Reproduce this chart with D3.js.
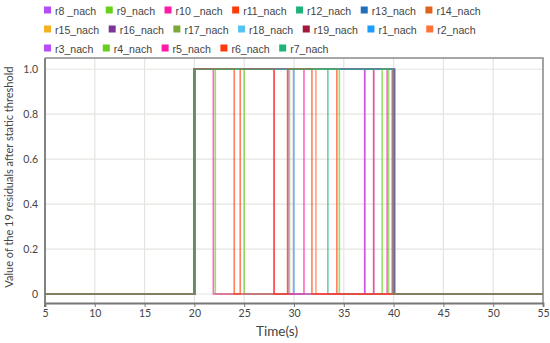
<!DOCTYPE html>
<html>
<head>
<meta charset="utf-8">
<script src="https://cdn.jsdelivr.net/npm/d3@7"></script>
<style>
  body { margin: 0; background: #fff; }
  #graf { width: 550px; height: 343px; }
  text { font-family: Lato, "Open Sans", sans-serif; fill: #444; }
</style>
</head>
<body>
<div id="graf"></div>
<script>
// series names in legend / drawing order
const nombres = ["r8 _nach", "r9_nach", "r10 _nach", "r11_nach", "r12_nach", "r13_nach", "r14_nach",
  "r15_nach", "r16_nach", "r17_nach", "r18_nach", "r19_nach", "r1_nach", "r2_nach",
  "r3_nach", "r4_nach", "r5_nach", "r6_nach", "r7_nach"];

const colores = ["#b94cf6", "#66d01a", "#ff1aa8", "#ff3a0a", "#1fb37a", "#1f6fba", "#e0621f",
  "#f2b022", "#7d3497", "#7ca83a", "#55c3f0", "#a3173a", "#1a9dff", "#ff7338",
  "#b94cf6", "#66d01a", "#ff1aa8", "#ff3a0a", "#1fb37a"];

// switching instants (s): signal starts at 0 and toggles 0/1 at each instant
const cambios = [
  [20, 29.4, 29.95, 40],
  [20, 22.1],
  [20, 28.0, 31.0, 37.1, 39.35, 40],
  [20, 34.3, 38.0, 40],
  [20, 33.4],
  [20, 40],
  [20, 39.85],
  [20, 40],
  [20, 40],
  [20, 40.1],
  [20, 30.0],
  [20, 40.1],
  [20, 40],
  [20, 32.2],
  [20, 37.1, 38.0, 40],
  [20, 25.0, 29.55, 34.55, 38.85, 39.5],
  [20, 21.9],
  [20, 24.0, 24.6, 28.0, 29.35, 31.8],
  [20, 40]
];

const tInicio = 5, tFin = 55;
const xTicks = [5, 10, 15, 20, 25, 30, 35, 40, 45, 50, 55];
const yTicks = [0, 0.2, 0.4, 0.6, 0.8, 1.0];

const ancho_total = 550, alto_total = 343;
const margins = { top: 58, left: 45, right: 7, bottom: 40 };
const ancho = ancho_total - margins.left - margins.right;
const alto = alto_total - margins.top - margins.bottom;

const svg = d3.select("#graf").append("svg")
  .attr("width", ancho_total).attr("height", alto_total);

const g = svg.append("g").attr("transform", `translate(${margins.left}, ${margins.top})`);

const x = d3.scaleLinear().domain([tInicio, tFin]).range([0, ancho]);
const y = d3.scaleLinear().domain([-0.04, 1.05]).range([alto, 0]);

// grid
g.append("g").selectAll("line").data(xTicks).join("line")
  .attr("x1", d => x(d)).attr("x2", d => x(d))
  .attr("y1", 0).attr("y2", alto)
  .attr("stroke", "#e4e4e0").attr("stroke-width", 1.2);
g.append("g").selectAll("line").data(yTicks).join("line")
  .attr("x1", 0).attr("x2", ancho)
  .attr("y1", d => y(d)).attr("y2", d => y(d))
  .attr("stroke", "#e4e4e0").attr("stroke-width", 1.2);

// frame top / right
g.append("path")
  .attr("d", `M0,0H${ancho}V${alto}`)
  .attr("fill", "none").attr("stroke", "#8a8a8a").attr("stroke-width", 1.5);

// step lines
const linea = d3.line().x(d => x(d[0])).y(d => y(d[1])).curve(d3.curveStepAfter);
const series = cambios.map(c => {
  const pts = [[tInicio, 0]];
  let v = 0;
  c.forEach(t => { v = 1 - v; pts.push([t, v]); });
  pts.push([tFin, v]);
  return pts;
});

g.append("g").selectAll("path").data(series).join("path")
  .attr("d", linea)
  .attr("fill", "none")
  .attr("stroke", (d, i) => colores[i])
  .attr("stroke-opacity", 0.65)
  .attr("stroke-width", 1.6);

// axes
const xAxis = g.append("g").attr("transform", `translate(0, ${alto})`)
  .call(d3.axisBottom(x).tickValues(xTicks).tickSize(4).tickPadding(3).tickFormat(d3.format("d")));
const yAxis = g.append("g")
  .call(d3.axisLeft(y).tickValues(yTicks).tickSize(0).tickPadding(7)
    .tickFormat(d => d === 0 ? "0" : d.toFixed(1)));
[xAxis, yAxis].forEach(a => {
  a.select(".domain").attr("stroke", "#777").attr("stroke-width", 1.8);
  a.selectAll(".tick line").attr("stroke", "#777");
  a.selectAll("text").style("font-size", "10.5px").style("font-family", "Lato, sans-serif").attr("fill", "#444");
});
yAxis.select(".domain").attr("d", `M0,0V${alto + 4}`);

g.append("text")
  .attr("x", x(28.3)).attr("y", alto + 33)
  .attr("text-anchor", "middle")
  .style("font-size", "13.5px")
  .text("Time(s)");

svg.append("text")
  .attr("transform", `translate(13, ${margins.top + y(0.52)}) rotate(-90)`)
  .attr("text-anchor", "middle")
  .style("font-size", "11px")
  .text("Value of the 19 residuals after static threshold");

// legend, flowing left to right
const leyenda = svg.append("g");
let lx = 44, ly = 10;
const limite = 515;
nombres.forEach((n, i) => {
  const it = leyenda.append("g");
  const txt = it.append("text").attr("x", 11).attr("y", 4.5)
    .style("font-family", "'Liberation Sans', Arial, sans-serif")
    .style("font-size", "10.6px").text(n);
  const w = 11 + txt.node().getComputedTextLength();
  if (lx + w > limite) { lx = 44; ly += 19; }
  it.attr("transform", `translate(${lx}, ${ly})`);
  it.append("rect").attr("x", 0).attr("y", -3.5).attr("width", 7).attr("height", 7)
    .attr("fill", colores[i]);
  lx += w + 9.5;
});
</script>
</body>
</html>
